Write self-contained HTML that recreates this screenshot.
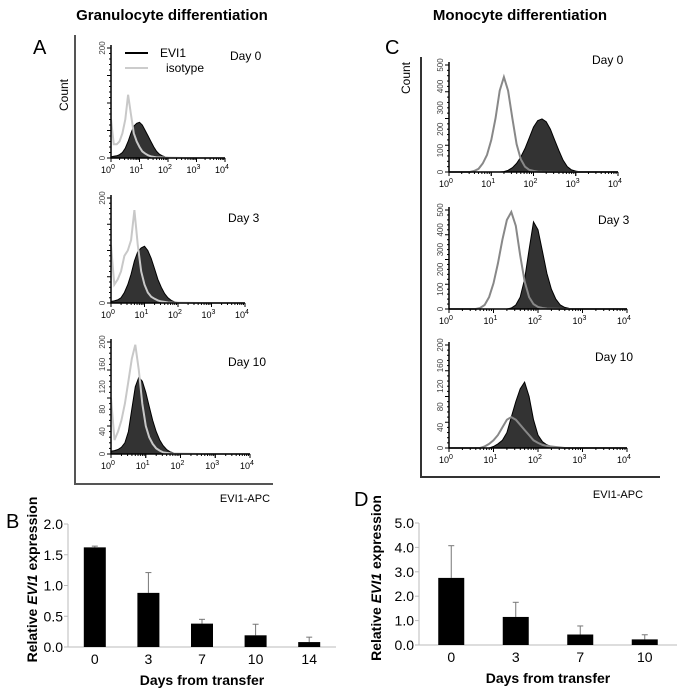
<!DOCTYPE html>
<html><head><meta charset="utf-8"><style>
body{margin:0;background:#fff}
svg{display:block;font-family:"Liberation Sans",Arial,sans-serif}
</style></head><body>
<svg id="fig" width="700" height="696" viewBox="0 0 700 696">
<text x="172" y="20" text-anchor="middle" font-weight="bold" font-size="15">Granulocyte differentiation</text>
<text x="520" y="20" text-anchor="middle" font-weight="bold" font-size="15">Monocyte differentiation</text>
<text x="33" y="54" font-size="20">A</text>
<text x="385" y="54" font-size="20">C</text>
<text x="6" y="528" font-size="20">B</text>
<text x="354" y="506" font-size="20">D</text>
<path d="M75 35 V484 H273" fill="none" stroke="#555" stroke-width="2"/>
<path d="M421 57 V477 H660" fill="none" stroke="#333" stroke-width="2"/>
<text transform="translate(68,95) rotate(-90)" text-anchor="middle" font-size="12">Count</text>
<text transform="translate(410,78) rotate(-90)" text-anchor="middle" font-size="12">Count</text>
<text x="245" y="502" text-anchor="middle" font-size="11">EVI1-APC</text>
<text x="618" y="498" text-anchor="middle" font-size="11">EVI1-APC</text>
<line x1="125" y1="53" x2="148" y2="53" stroke="#000" stroke-width="2"/>
<text x="160" y="57" font-size="12">EVI1</text>
<line x1="125" y1="68" x2="148" y2="68" stroke="#ccc" stroke-width="2"/>
<text x="166" y="72" font-size="12">isotype</text>
<g id="g"></g>
</svg>
<script>
const isoA0=[70,25,25,30,45,70,115,80,45,30,20,12,8,5,3,2,1,1];
const eviA0=[2,3,4,6,10,18,30,45,58,63,65,60,50,40,30,20,12,7,4,2,1];
const isoA3=[110,35,45,60,90,100,120,177,110,60,35,20,12,8,5,3,2,1];
const eviA3=[3,4,6,10,20,35,55,80,98,105,108,100,85,65,45,30,18,10,5,2,1];
const isoA10=[100,25,40,60,90,130,170,195,150,90,50,30,18,10,6,3,2,1];
const eviA10=[5,6,8,12,20,40,80,120,137,130,110,85,60,40,25,15,8,4,2,1];
const isoC0=[0,0,0,0,0,0,5,15,40,80,150,250,380,444,380,250,130,60,25,10,5,2,1];
const eviC0=[0,0,0,0,0,0,0,0,0,0,0,0,0,2,8,20,40,70,110,160,210,240,248,235,200,150,100,55,25,10,4,1];
const isoC3=[0,0,0,0,0,0,0,5,20,60,130,230,350,450,490,420,270,140,60,25,10,5,2];
const eviC3=[0,0,0,0,0,0,0,0,0,0,0,0,0,0,5,20,60,150,300,440,400,290,180,100,50,20,8,3,1];
const isoC10=[0,0,0,0,0,0,0,0,3,8,15,25,40,55,60,55,45,35,25,15,10,6,4,3,2,1];
const eviC10=[0,0,0,0,0,0,0,0,0,0,3,8,15,30,60,90,115,128,100,55,25,12,6,3,1];
const daysB=["0","3","7","10","14"];
const valsB=[1.62,0.88,0.38,0.19,0.08];
const errB=[0.02,0.33,0.07,0.18,0.08];
const ticksB=[0,0.5,1.0,1.5,2.0];
const daysD=["0","3","7","10"];
const valsD=[2.75,1.15,0.43,0.23];
const errD=[1.32,0.60,0.35,0.19];
const ticksD=[0,1,2,3,4,5];

const NS="http://www.w3.org/2000/svg";
const G=document.getElementById('g');
function mk(t,a,p){const e=document.createElementNS(NS,t);for(const k in a)e.setAttribute(k,a[k]);(p||G).appendChild(e);return e;}

const hists=[
 {n:'a-day0',x0:111,x4:225,y0:158,yt:48,ymax:200,yt2:[0,200],iso:isoA0,evi:eviA0,ic:'#c8c8c8',day:'Day 0',dx:230,dy:60},
 {n:'a-day3',x0:111,x4:245,y0:303,yt:198,ymax:200,yt2:[0,200],iso:isoA3,evi:eviA3,ic:'#c8c8c8',day:'Day 3',dx:228,dy:222},
 {n:'a-day10',x0:111,x4:250,y0:454,yt:342,ymax:200,yt2:[0,40,80,120,160,200],iso:isoA10,evi:eviA10,ic:'#c8c8c8',day:'Day 10',dx:228,dy:366},
 {n:'c-day0',x0:449,x4:618,y0:172,yt:65,ymax:500,yt2:[0,100,200,300,400,500],iso:isoC0,evi:eviC0,ic:'#888',day:'Day 0',dx:592,dy:64},
 {n:'c-day3',x0:449,x4:627,y0:309,yt:210,ymax:500,yt2:[0,100,200,300,400,500],iso:isoC3,evi:eviC3,ic:'#888',day:'Day 3',dx:598,dy:224},
 {n:'c-day10',x0:449,x4:627,y0:448,yt:345,ymax:200,yt2:[0,40,80,120,160,200],iso:isoC10,evi:eviC10,ic:'#888',day:'Day 10',dx:595,dy:361}
];
hists.forEach(h=>{
  const g=mk('g',{});
  
  
  const sx=v=>h.x0+(h.x4-h.x0)*v/4;
  const sy=c=>h.y0-(h.y0-h.yt)*c/h.ymax;
  let d='M'+sx(0)+' '+h.y0;
  h.evi.forEach((c,i)=>{d+=' L'+sx(i*0.1).toFixed(1)+' '+sy(c).toFixed(1);});
  d+=' L'+sx((h.evi.length-1)*0.1).toFixed(1)+' '+h.y0+' Z';
  const p=mk('path',{d:d,fill:'#333',stroke:'#000','stroke-width':1},g);
  
  
  let d2='';
  h.iso.forEach((c,i)=>{d2+=(i?' L':'M')+sx(i*0.1).toFixed(1)+' '+sy(c).toFixed(1);});
  d2+=' L'+sx(2.6).toFixed(1)+' '+h.y0+' L'+sx(4)+' '+h.y0;
  const q=mk('path',{d:d2,fill:'none',stroke:h.ic,'stroke-width':2},g);
  
  
  const ax=mk('path',{d:`M${h.x0} ${h.yt-3} V${h.y0} H${h.x4}`,fill:'none',stroke:'#000','stroke-width':1.5},g);
  
  
  for(let k=0;k<=20;k++){const y=h.y0-(h.y0-h.yt)*k/20;mk('line',{x1:h.x0-(k%5?2:4),x2:h.x0,y1:y,y2:y,stroke:'#000','stroke-width':1},g);}
  for(let dec=0;dec<4;dec++)for(let m=1;m<=10;m++){const x=sx(dec+Math.log10(m));mk('line',{x1:x,x2:x,y1:h.y0,y2:h.y0+(m==1||m==10?4:2),stroke:'#000','stroke-width':1},g);}
  h.yt2.forEach(v=>{const t=mk('text',{transform:`translate(${h.x0-6},${sy(v)}) rotate(-90)`,'text-anchor':'middle','font-size':8,fill:'#444'},g);t.textContent=v;
    });
  for(let dec=0;dec<=4;dec++){const t=mk('text',{x:sx(dec)-3,y:h.y0+15,'text-anchor':'middle','font-size':9},g);
    t.textContent='10';const s=mk('tspan',{dy:-4,'font-size':7},t);s.textContent=dec;
    }
  const dt=mk('text',{x:h.dx,y:h.dy,'font-size':12},g);dt.textContent=h.day;
  
});

function bar(o){
  const g=mk('g',{});
  
  
  const sy=v=>o.y0-(o.y0-o.yt)*v/o.max;
  const ax=mk('path',{d:`M${o.xa} ${o.yt} V${o.y0} H${o.xe}`,fill:'none',stroke:'#bbb','stroke-width':1},g);
  
  o.ticks.forEach(v=>{const y=sy(v);mk('line',{x1:o.xa-4,x2:o.xa,y1:y,y2:y,stroke:'#bbb'},g);
    const t=mk('text',{x:o.xa-5,y:y+5,'text-anchor':'end','font-size':14},g);t.textContent=v.toFixed(1);
    });
  const step=(o.xe-o.xa)/o.cats.length;
  o.cats.forEach((c,i)=>{const cx=o.xa+step*(i+0.5);
    const e=mk('line',{x1:cx,x2:cx,y1:sy(o.vals[i]),y2:sy(o.vals[i]+o.err[i]),stroke:'#777','stroke-width':1},g);
    
    mk('line',{x1:cx-3,x2:cx+3,y1:sy(o.vals[i]+o.err[i]),y2:sy(o.vals[i]+o.err[i]),stroke:'#777'},g);
    const r=mk('rect',{x:cx-o.bw/2,y:sy(o.vals[i]),width:o.bw,height:o.y0-sy(o.vals[i]),fill:'#000'},g);
    
    const t=mk('text',{x:cx,y:o.y0+17,'text-anchor':'middle','font-size':14},g);t.textContent=c;
    });
  const xt=mk('text',{x:(o.xa+o.xe)/2,y:o.y0+38,'text-anchor':'middle','font-size':14,'font-weight':'bold'},g);
  xt.textContent='Days from transfer';
  const yt=mk('text',{transform:`translate(${o.tx},${(o.y0+o.yt)/2-6}) rotate(-90)`,'text-anchor':'middle','font-size':14,'font-weight':'bold'},g);
  
  const a=mk('tspan',{},yt);a.textContent='Relative ';
  const b=mk('tspan',{'font-style':'italic'},yt);b.textContent='EVI1';
  const c=mk('tspan',{},yt);c.textContent=' expression';
}
bar({n:'bar-chart-b',xa:68,xe:336,y0:647,yt:524,max:2,ticks:ticksB,cats:daysB,vals:valsB,err:errB,bw:22,tx:37});
bar({n:'bar-chart-d',xa:419,xe:677,y0:645,yt:523,max:5,ticks:ticksD,cats:daysD,vals:valsD,err:errD,bw:26,tx:381});
</script>
</body></html>
